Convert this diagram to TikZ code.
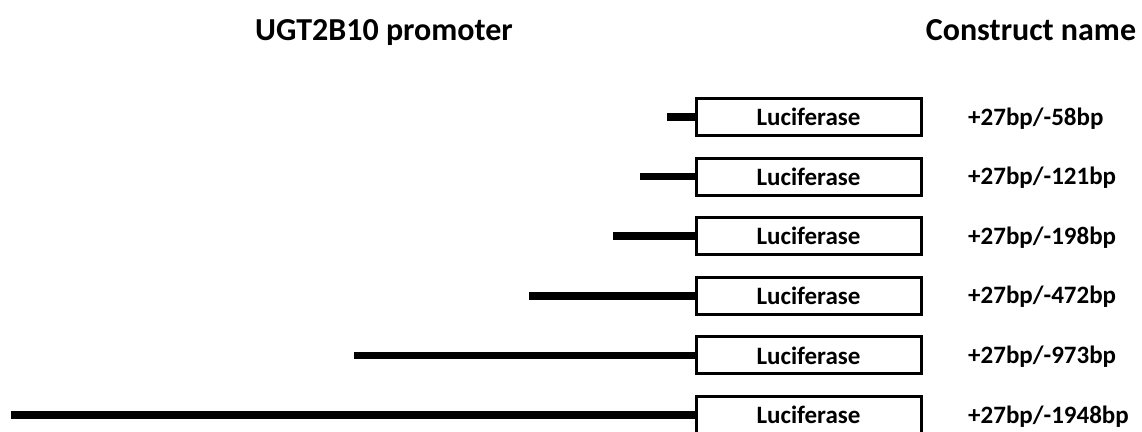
\documentclass[tikz,border=0pt]{standalone}
\usepackage{fontspec}
\setmainfont{Carlito}
\begin{document}
\begin{tikzpicture}[x=1pt,y=-1pt,
  lucbox/.style={draw=black,line width=3pt,minimum width=225pt,minimum height=37pt,inner sep=0pt,font=\fontsize{25}{28}\selectfont\bfseries},
  promo/.style={line width=7.5pt},
  lbl/.style={anchor=base west,inner sep=0pt,font=\fontsize{25}{28}\selectfont\bfseries},
  hdr/.style={anchor=base,inner sep=0pt,font=\fontsize{32}{36}\selectfont\bfseries}]
\useasboundingbox (0,0) rectangle (1142,431);
\node[hdr] (h1) at (384,40) {UGT2B10 promoter};
\node[hdr] (h2) at (1031,40) {Construct name};
\foreach \i/\s/\t in {1/667/58,2/640/121,3/613/198,4/529/472,5/354/973,6/11/1948}{
  \pgfmathsetmacro{\yy}{117+(\i-1)*59.6}
  \node[lucbox] (b\i) at (808.5,\yy) {Luciferase};
  \coordinate (s\i) at (\s,\yy);
  \draw[promo] (s\i) -- (b\i.west);
  \node[lbl] (l\i) at (968,\yy+8) {+27bp/-\t bp};
}
\end{tikzpicture}
\end{document}
